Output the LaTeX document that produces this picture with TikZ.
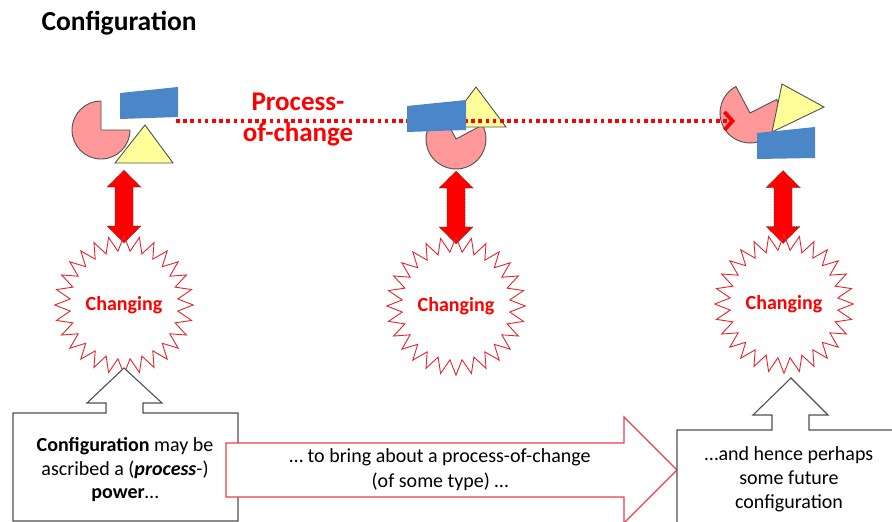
\documentclass[tikz,border=0pt]{standalone}
\usepackage{fontspec}
\setmainfont{Carlito}
\usetikzlibrary{shapes.geometric,arrows.meta}

\definecolor{piepink}{HTML}{FF9999}
\definecolor{shapeblue}{HTML}{4A86C8}
\definecolor{shapeyellow}{HTML}{FFFF99}
\definecolor{outlinegray}{HTML}{505050}
\definecolor{starred}{HTML}{E3262E}
\definecolor{flowred}{HTML}{E8414A}

\tikzset{
  pieshape/.style={fill=piepink, draw=outlinegray, line width=0.9},
  triangleshape/.style={fill=shapeyellow, draw=outlinegray, line width=0.9, line join=miter},
  blueshape/.style={fill=shapeblue},
  changestar/.style={star, star points=28, star point ratio=1.28, minimum size=114,
    draw=starred, line width=0.9, inner sep=0, text=red,
    font=\fontsize{20}{24}\selectfont\bfseries},
  dblarrowstyle/.style={fill=red, draw=black!75, densely dotted, line width=0.6},
  callout/.style={fill=white, draw=outlinegray, line width=1.1, line join=miter},
  flowarrow/.style={fill=white, draw=flowred, line width=1.1, line join=miter},
  boxtext/.style={align=center, font=\fontsize{20}{23.5}\selectfont},
  dblarr/.pic={
    \draw[dblarrowstyle] (0,-36.5) -- (17,-19.5) -- (9,-19.5) -- (9,19.5) -- (17,19.5)
      -- (0,36.5) -- (-17,19.5) -- (-9,19.5) -- (-9,-19.5) -- (-17,-19.5) -- cycle;
  }
}

\begin{document}
\begin{tikzpicture}[x=1pt, y=-1pt]
\useasboundingbox (0,0) rectangle (892,522);
\clip (0,0) rectangle (892,522);

% title
\node[anchor=west, font=\fontsize{27.5}{31}\selectfont\bfseries] (title) at (38,23) {Configuration};

% pies (one quarter cut away)
\fill[pieshape] (101,130) -- ++(0:29) arc (0:270:29) -- cycle;
\fill[pieshape] (456,139) -- ++(-28:30) arc (-28:242:30) -- cycle;
\fill[pieshape] (750,113) -- ++(-27:30) arc (-27:242:30) -- cycle;

% triangles
\filldraw[triangleshape] (145,125) -- (173,163) -- (115,163) -- cycle;
\filldraw[triangleshape] (476,87) -- (506,127) -- (446,127) -- cycle;
\filldraw[triangleshape] (782,84) -- (824,107) -- (772,132) -- cycle;

% process-of-change: dotted red connector
\coordinate (start) at (176,121);
\coordinate (finish) at (735,121);
\draw[red, line width=3.6, dash pattern=on 3.6 off 3.6,
      -{Straight Barb[length=8, width=18, line width=3.8]}] (start) -- (finish);
\node[align=center, text=red, font=\fontsize{27}{31}\selectfont\bfseries] (poc) at (298,120) {Process-\\of-change};

% blue quadrilaterals
\fill[blueshape] (120,93) -- (178,87) -- (178,117) -- (120,119) -- cycle;
\fill[blueshape] (407,106) -- (466,100) -- (466,130) -- (407,132) -- cycle;
\fill[blueshape] (757,133) -- (815,127) -- (815,158) -- (757,159) -- cycle;

% two-way arrows
\pic at (124,206.5) {dblarr};
\pic at (456,207.5) {dblarr};
\pic at (783,207) {dblarr};

% changing stars
\node[changestar] (s1) at (124,305) {Changing};
\node[changestar] (s2) at (456,306) {Changing};
\node[changestar] (s3) at (784,304) {Changing};

% left callout box
\draw[callout] (13,521) -- (13,413) -- (106,413) -- (106,403) -- (87,403) -- (124,368)
  -- (162,403) -- (143,403) -- (143,413) -- (238,413) -- (238,521) -- cycle;
\node[boxtext] (left) at (125,470)
  {\textbf{Configuration} may be\\ascribed a (\textbf{\textit{process}}-)\\\textbf{power}\dots};

% middle flow arrow
\draw[flowarrow] (226,443) -- (624,443) -- (624,417) -- (677,470) -- (624,523)
  -- (624,497) -- (226,497) -- cycle;
\node[boxtext, font=\fontsize{20}{25}\selectfont] (mid) at (440,470)
  {\dots{} to bring about a process-of-change\\(of some type) \dots};

% right callout box
\draw[callout] (677,530) -- (677,430) -- (772,430) -- (772,415) -- (753,415) -- (791,378)
  -- (828,415) -- (809,415) -- (809,430) -- (900,430) -- (900,530) -- cycle;
\node[boxtext, font=\fontsize{20}{24}\selectfont] (right) at (789,479)
  {\dots and hence perhaps\\some future\\configuration};
\end{tikzpicture}
\end{document}
